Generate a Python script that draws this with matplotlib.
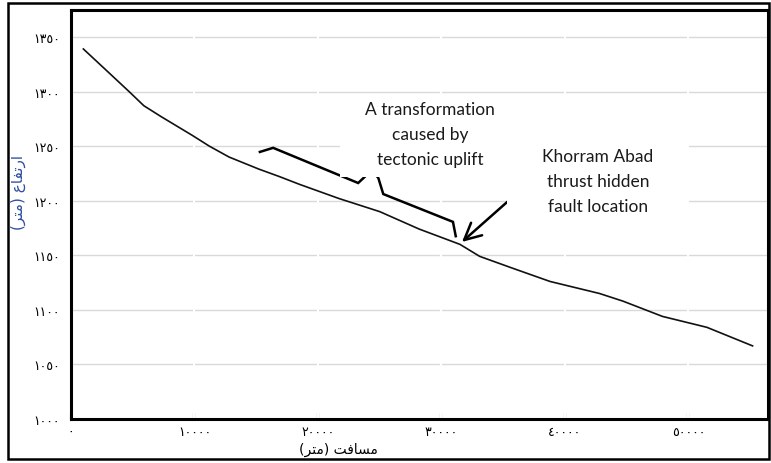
import matplotlib
matplotlib.use('Agg')
import matplotlib.pyplot as plt
from matplotlib.patches import Rectangle

# profile data
distance = [1000, 2900, 4700, 5900, 7300, 9800, 11200, 12800, 15200, 16900, 18500,
            21700, 25000, 28200, 31500, 33100, 35800, 38800, 42800, 44700,
            47900, 51500, 55200]
elevation = [1339, 1319, 1300, 1287, 1277, 1260, 1250, 1240, 1229, 1222, 1215,
             1202, 1190, 1174, 1160, 1149, 1138, 1126, 1115, 1108,
             1094, 1084, 1067]

xticks = [0, 10000, 20000, 30000, 40000, 50000]
yticks = [1000, 1050, 1100, 1150, 1200, 1250, 1300, 1350]

# arabic-indic digits for tick labels
ar = str.maketrans('0123456789', '\u0660\u0661\u0662\u0663\u0664\u0665\u0666\u0667\u0668\u0669')
xlabels = [str(v).translate(ar) for v in xticks]
ylabels = [str(v).translate(ar) for v in yticks]

# pre-shaped persian labels (visual order)
xlabel_txt = '(\uFEAE\uFE98\uFEE3) \uFE96\uFED3\uFE8E\uFEB4\uFEE3'   # مسافت (متر)
ylabel_txt = '(\uFEAE\uFE98\uFEE3) \uFEC9\uFE8E\uFED4\uFE97\uFEAD\uFE8D'  # ارتفاع (متر)

note1 = 'A transformation\ncaused by\ntectonic uplift'
note2 = 'Khorram Abad\nthrust hidden\nfault location'

fig = plt.figure(figsize=(7.71, 4.64), dpi=100)
ax = fig.add_axes([0.0921, 0.0948, 0.9040, 0.8815])

ax.plot(distance, elevation, color='#111111', lw=1.2, zorder=3)

ax.set_xlim(0, 56450)
ax.set_ylim(1000, 1374.7)
ax.set_xticks(xticks)
ax.set_xticklabels(xlabels, fontsize=9, family='DejaVu Sans')
ax.set_yticks(yticks)
ax.set_yticklabels(ylabels, fontsize=9, family='DejaVu Sans')
ax.tick_params(axis='x', direction='in', length=4, width=1.5, pad=4)
ax.tick_params(axis='y', length=0, pad=8)

ax.set_axisbelow(True)
ax.grid(axis='y', color='#d9d9d9', lw=1)
# small breaks in the gridlines at the x ticks
for t in xticks[1:]:
    ax.axvline(t, color='white', lw=1.5, zorder=0.6)

for s in ax.spines.values():
    s.set_linewidth(2.2)

ax.set_xlabel(xlabel_txt, fontsize=10, family='DejaVu Sans')
ax.xaxis.set_label_coords(0.383, -0.056)
ax.set_ylabel(ylabel_txt, fontsize=11, family='DejaVu Sans', color='#2E4FA0')
ax.yaxis.set_label_coords(-0.065, 0.557)

# hand drawn brace and arrow (axes fractions)
brace_x = [0.271, 0.290, 0.412, 0.432, 0.441, 0.448, 0.548, 0.552]
brace_y = [0.653, 0.663, 0.577, 0.609, 0.589, 0.550, 0.482, 0.447]
ax.plot(brace_x, brace_y, color='black', lw=1.8, transform=ax.transAxes,
        zorder=4, solid_joinstyle='miter')
ax.annotate('', xy=(0.561, 0.433), xytext=(0.626, 0.531), xycoords='axes fraction',
            arrowprops=dict(arrowstyle='->,head_length=0.8,head_width=0.4',
                            color='black', lw=1.8, mutation_scale=15,
                            shrinkA=0, shrinkB=0), zorder=4)

# white text boxes
ax.add_patch(Rectangle((0.386, 0.592), 0.258, 0.203, transform=ax.transAxes,
                       facecolor='white', edgecolor='none', zorder=5))
ax.add_patch(Rectangle((0.625, 0.484), 0.262, 0.220, transform=ax.transAxes,
                       facecolor='white', edgecolor='none', zorder=5))
ax.text(0.515, 0.697, note1, transform=ax.transAxes, ha='center', va='center',
        fontsize=12.5, family='Lato', color='#1a1a1a', linespacing=1.7, zorder=6)
ax.text(0.756, 0.582, note2, transform=ax.transAxes, ha='center', va='center',
        fontsize=12.5, family='Lato', color='#1a1a1a', linespacing=1.7, zorder=6)

# outer frame
fig.patches.append(Rectangle((0.0104, 0.0086), 0.9875, 0.9828, transform=fig.transFigure,
                             facecolor='none', edgecolor='black', lw=1.8))

plt.savefig('out.png', dpi=100)
